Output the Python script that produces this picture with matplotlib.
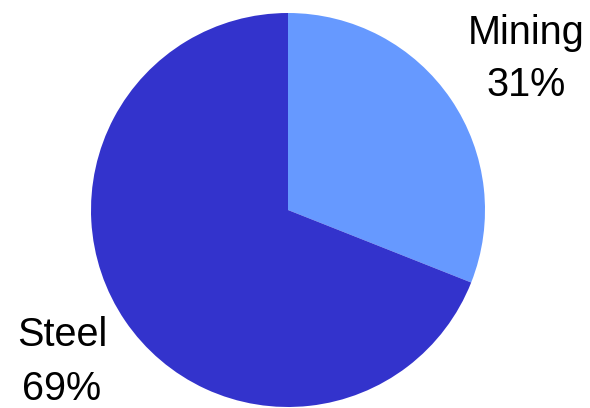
import matplotlib.pyplot as plt

labels = ["Mining", "Steel"]
shares = [31, 69]
colors = ["#6699FF", "#3333CC"]

plt.rcParams['font.family'] = ['Liberation Sans', 'DejaVu Sans']

fig = plt.figure(figsize=(5.9, 4.08), dpi=100)
ax = fig.add_axes([0, 0, 1, 1])

# pie centred at (288, 210) px, radius 197 px
ax.pie(shares, colors=colors, startangle=90, counterclock=False,
       wedgeprops=dict(linewidth=0))
ax.set_aspect('auto')
ax.set_xlim(-288 / 197, (590 - 288) / 197)
ax.set_ylim(-(408 - 210) / 197, 210 / 197)
ax.axis('off')

# label positions (px in image) -> data units
label_pos = [(526, 59), (62, 362)]
for lab, val, (px, py) in zip(labels, shares, label_pos):
    ax.text((px - 288) / 197, (210 - py) / 197, f"{lab}\n{val}%",
            ha='center', va='center', fontsize=28.5, linespacing=1.5)

fig.savefig("out.png", dpi=100)
